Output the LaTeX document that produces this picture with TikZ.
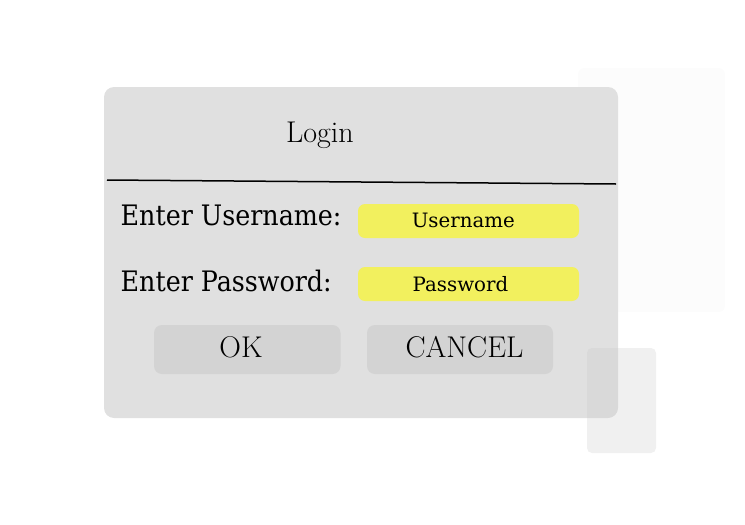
\documentclass[tikz,border=0pt]{standalone}
\usepackage{fontspec}
\newfontfamily\dvsc{DejaVu Serif Condensed}
\newfontfamily\dvs{DejaVu Serif}
\definecolor{panelgray}{HTML}{E0E0E0}
\definecolor{btngray}{HTML}{D3D3D3}
\definecolor{fieldyellow}{HTML}{F2F05E}
\definecolor{faintgray}{HTML}{FCFCFC}
\definecolor{ghostgray}{HTML}{C5C5C5}
\begin{document}
\begin{tikzpicture}[x=1pt,y=-1pt,
  field/.style={fill=fieldyellow,rounded corners=7pt},
  button/.style={fill=btngray,rounded corners=8pt},
  lbl/.style={anchor=base west,inner sep=0pt,font=\dvsc\fontsize{28.2}{32}\selectfont},
  fieldtxt/.style={anchor=base,inner sep=0pt,font=\dvs\fontsize{19.8}{24}\selectfont},
  lmtxt/.style={anchor=base,inner sep=0pt,font=\fontsize{30}{34}\selectfont}]
\useasboundingbox (0,0) rectangle (745,525);
% faint background card
\fill[faintgray,rounded corners=6pt] (578,68) rectangle (725,312);
% main panel
\fill[panelgray,rounded corners=10pt] (104,87) rectangle (618,418);
% ghost card
\fill[ghostgray,opacity=0.26,rounded corners=5pt] (587,348) rectangle (656,453);
% separator
\coordinate (sepL) at (107,180);
\coordinate (sepR) at (616,184);
\draw[line width=1.5pt] (sepL) -- (sepR);
% title
\node[lmtxt] (title) at (320,142.5) {Login};
% labels
\node[lbl] (ulabel) at (120.5,225) {Enter Username:};
\node[lbl] (plabel) at (120.5,291.5) {Enter Password:};
% fields
\fill[field] (358,204) rectangle (579,238);
\fill[field] (358,267) rectangle (579,301);
\node[fieldtxt] (utext) at (463.3,227.7) {Username};
\node[fieldtxt] (ptext) at (460.5,291.7) {Password};
% buttons
\fill[button] (154,325) rectangle (340.5,374);
\fill[button] (367,325) rectangle (553,374);
\node[lmtxt] (ok) at (241,357.7) {OK};
\node[lmtxt] (cancel) at (464.5,357.7) {CANCEL};
\end{tikzpicture}
\end{document}
